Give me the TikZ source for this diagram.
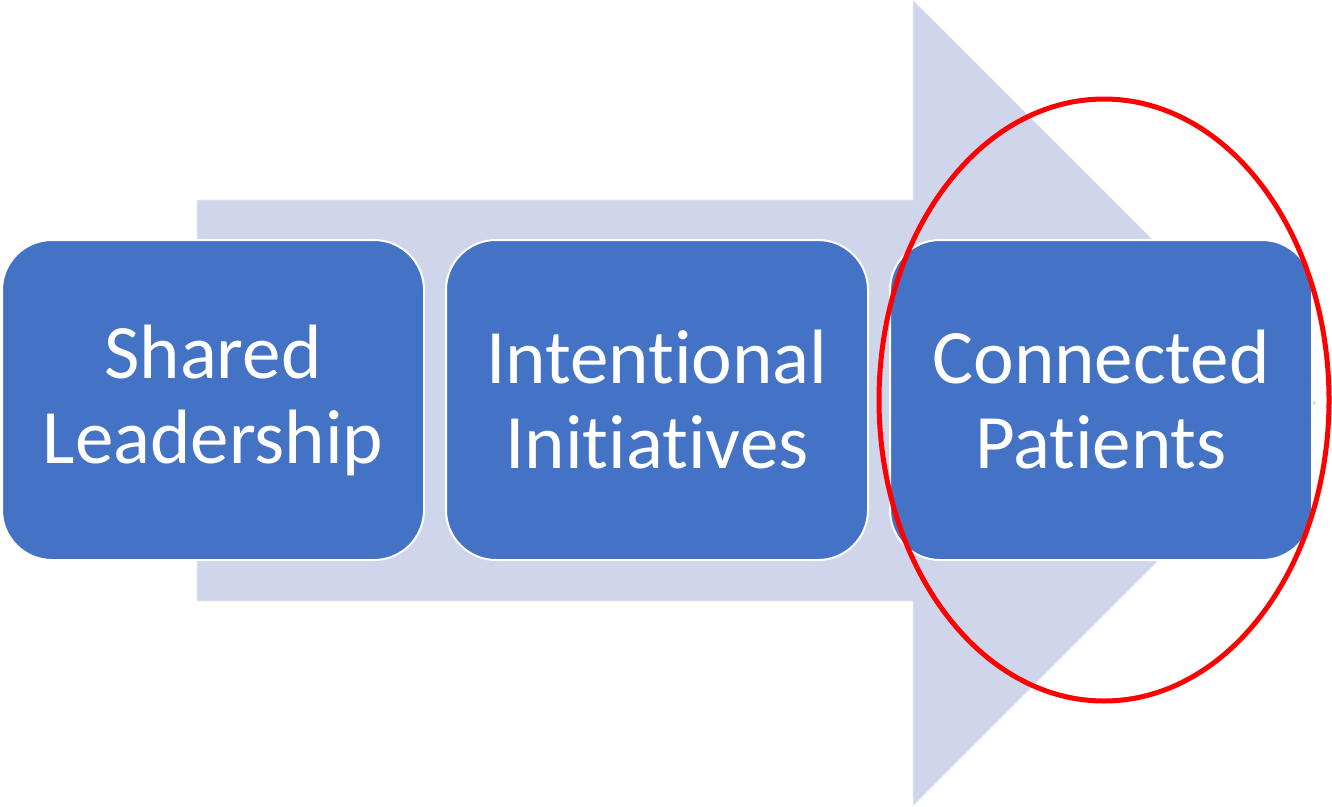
\documentclass[tikz,border=0pt]{standalone}
\usepackage{fontspec}
\setmainfont[Ligatures=NoCommon]{Carlito}
\definecolor{arrowfill}{HTML}{CFD5EA}
\definecolor{boxfill}{HTML}{4472C4}
\definecolor{ringred}{HTML}{FF0000}
\begin{document}
\begin{tikzpicture}[x=1pt,y=-1pt,
  stagebox/.style={draw=white, line width=2pt, fill=boxfill, rounded corners=50pt,
    minimum width=422pt, minimum height=320pt, inner sep=0pt,
    text=white, align=center,
    font=\fontsize{77}{85}\selectfont},
  bigarrow/.style={fill=arrowfill, draw=white!60!arrowfill, line width=0.8pt}]
  \useasboundingbox (0,0) rectangle (1332,806);
  % background process arrow
  \path[bigarrow] (197,200) -- (913,200) -- (913,0) -- (1316,403)
     -- (913,806) -- (913,601) -- (197,601) -- cycle;
  % the three stages
  \node[stagebox] (s1) at (213,400) {Shared\\Leadership};
  \node[stagebox] (s2) at (657,400) {Intentional\\Initiatives};
  \node[stagebox] (s3) at (1101,400) {Connected\\Patients};
  % highlight ring around the last stage
  \draw[ringred, line width=5pt] (1104,400) ellipse [x radius=225, y radius=301];
\end{tikzpicture}
\end{document}
